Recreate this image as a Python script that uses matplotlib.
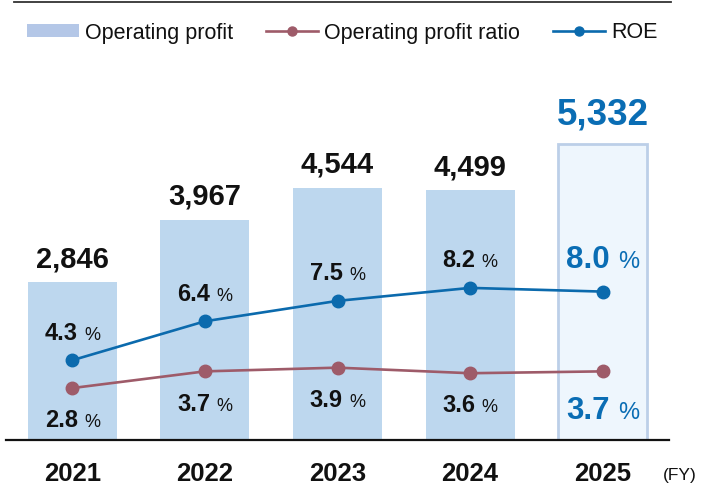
import matplotlib
matplotlib.use("Agg")
import matplotlib.pyplot as plt
from matplotlib.lines import Line2D
from matplotlib.patches import Patch
from matplotlib.offsetbox import TextArea, HPacker, AnnotationBbox

plt.rcParams['font.family'] = ['Liberation Sans', 'DejaVu Sans']

years = ["2021", "2022", "2023", "2024", "2025"]
profit = [2846, 3967, 4544, 4499, 5332]
ratio = [2.8, 3.7, 3.9, 3.6, 3.7]
roe = [4.3, 6.4, 7.5, 8.2, 8.0]

BAR = "#bdd7ee"
BAR_LAST = "#eef6fd"
BAR_EDGE = "#bccfe8"
ROE_C = "#0b6aad"
RATIO_C = "#9e5b69"
BLUE_TXT = "#0a6db4"
TXT = "#111111"

fig = plt.figure(figsize=(7.06, 4.98), dpi=100)
ax = fig.add_axes([6/706, 58/498, 663/706, 380/498])
ax2 = ax.twinx()

x = list(range(len(years)))
last = len(years) - 1
fills = [BAR if i < last else BAR_LAST for i in x]
edges = [BAR if i < last else BAR_EDGE for i in x]
lws = [0 if i < last else 2.0 for i in x]
ax.bar(x, profit, width=0.67, color=fills, edgecolor=edges, linewidth=lws, zorder=1)

ax.set_xlim(-0.5, 4.5)
ax.set_ylim(0, 380/0.0555)
ax2.set_ylim(0, 380/18.55)

ax2.plot(x, ratio, color=RATIO_C, lw=1.9, marker='o', ms=9, zorder=3)
ax2.plot(x, roe, color=ROE_C, lw=1.9, marker='o', ms=9, zorder=3)

for a in (ax, ax2):
    for s in ("top", "left", "right"):
        a.spines[s].set_visible(False)
    a.set_yticks([])
ax2.spines["bottom"].set_visible(False)
ax.spines["bottom"].set_linewidth(1.6)
ax.spines["bottom"].set_color("#111111")
ax.set_xticks(x)
ax.set_xticklabels(years, fontsize=18.5, fontweight='bold', color=TXT)
ax.tick_params(axis='x', length=0, pad=16)

# value labels
for i, v in enumerate(profit):
    if i < last:
        ax.annotate(f"{v:,}", (i, v), xytext=(0, 16.5), textcoords='offset points',
                    ha='center', va='center', fontsize=21, fontweight='bold', color=TXT)
    else:
        ax.annotate(f"{v:,}", (i, v), xytext=(0, 21), textcoords='offset points',
                    ha='center', va='center', fontsize=26.5, fontweight='bold', color=BLUE_TXT)

def pct_label(axis, xi, yv, dy, big):
    col = BLUE_TXT if big else TXT
    fs1 = 22.5 if big else 17
    fs2 = 17 if big else 13
    t1 = TextArea(f"{yv:.1f}", textprops=dict(fontsize=fs1, fontweight='bold', color=col))
    t2 = TextArea("%", textprops=dict(fontsize=fs2, color=col))
    box = HPacker(children=[t1, t2], align='baseline', pad=0, sep=6 if big else 4.5)
    ab = AnnotationBbox(box, (xi, yv), xybox=(0, dy), xycoords='data',
                        boxcoords='offset points', frameon=False,
                        box_alignment=(0.5, 0.5), pad=0, zorder=5)
    axis.add_artist(ab)

for i in x:
    big = i == last
    pct_label(ax2, i, roe[i], 23 if big else 19.5, big)
    pct_label(ax2, i, ratio[i], -28.5 if big else -23.5, big)

fig.text(680/706, 1 - 475/498, "(FY)", fontsize=12.5, ha='center', va='center', color=TXT)

# top rule
fig.add_artist(Line2D([14/706, 671/706], [1 - 2/498, 1 - 2/498], color="#333333", lw=1.3))

# legend
handles = [Patch(facecolor="#b4c7e7", edgecolor='none'),
           Line2D([], [], color=RATIO_C, lw=1.9, marker='o', ms=6.5),
           Line2D([], [], color=ROE_C, lw=1.9, marker='o', ms=6.5)]
labels = ["Operating profit", "Operating profit ratio", "ROE"]
leg = fig.legend(handles, labels, loc='center left', bbox_to_anchor=(27/706, 1 - 33/498),
                 ncol=3, frameon=False, fontsize=15.5, handlelength=2.4, handleheight=0.55,
                 handletextpad=0.28, columnspacing=1.55, borderaxespad=0, borderpad=0)
for t in leg.get_texts():
    t.set_color(TXT)

fig.savefig("out.png", dpi=100)
